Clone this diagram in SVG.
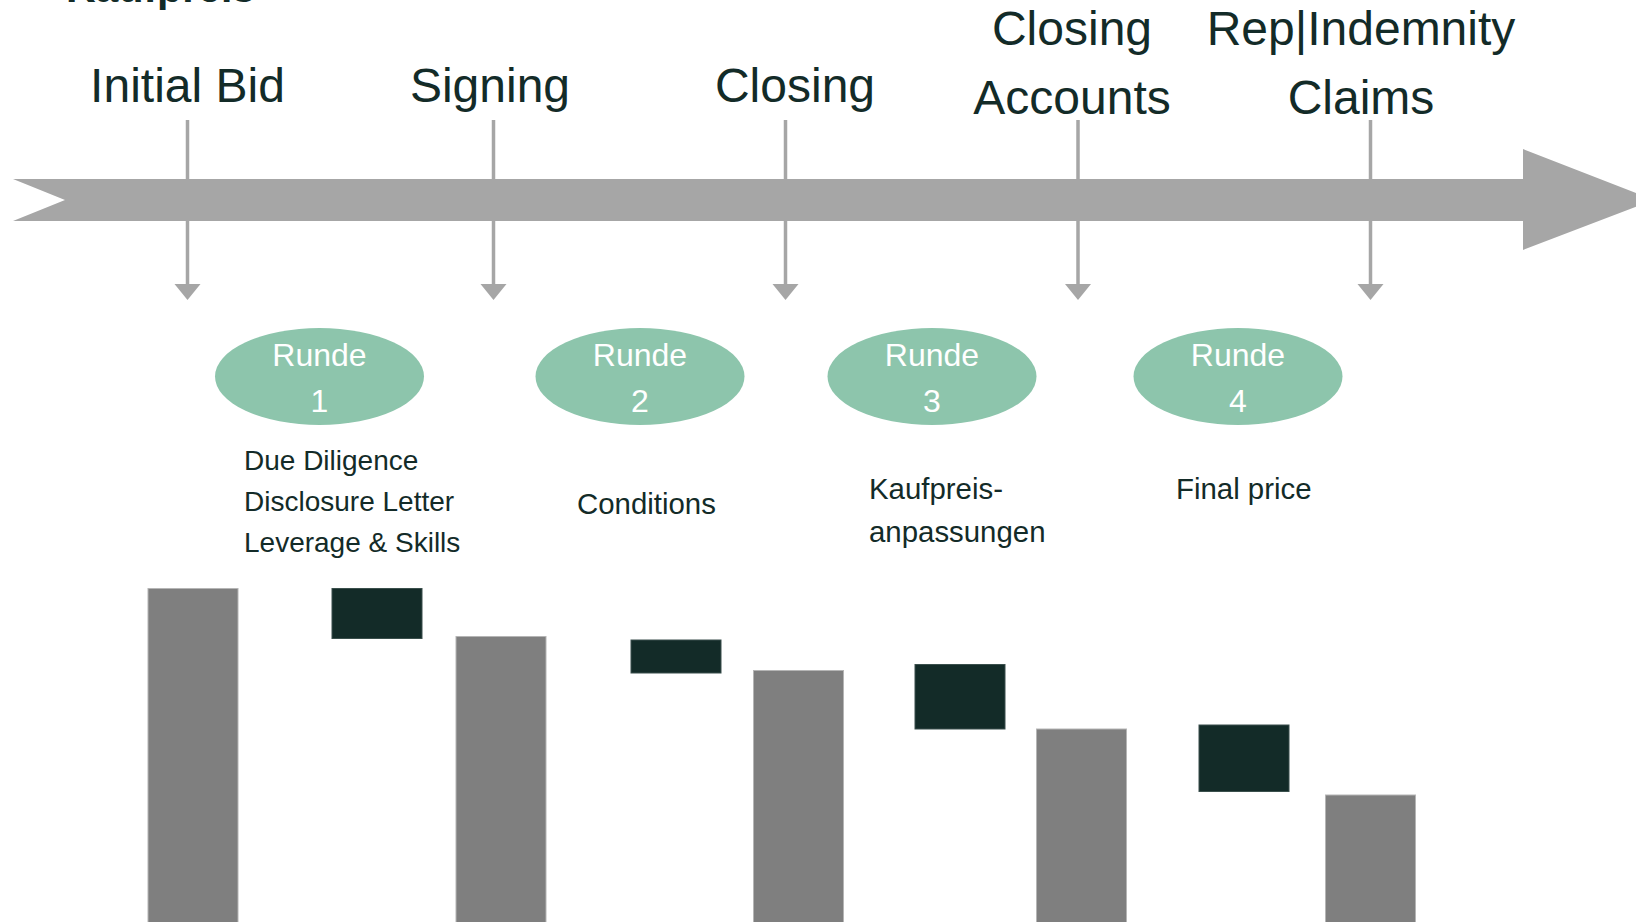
<svg xmlns="http://www.w3.org/2000/svg" width="1636" height="922" viewBox="0 0 1636 922">
<style>
text{font-family:"Liberation Sans",Arial,Helvetica,sans-serif;}
.title{font-size:41px;font-weight:bold;fill:#132B28;}
.lbl{font-size:48px;fill:#132B28;text-anchor:middle;}
.rnd{font-size:32px;fill:#FFFFFF;text-anchor:middle;}
.desc{font-size:28px;fill:#132B28;}
.desc2{font-size:29.4px;fill:#132B28;}
.ell{fill:#8DC5AC;}
.grey{fill:#7F7F7F;stroke:#B5B5B5;stroke-width:1;}
.dark{fill:#132B28;stroke:#3A4F4C;stroke-width:1;}
.conn{stroke:#A6A6A6;stroke-width:3.5;fill:none;}
.head{fill:#A6A6A6;}
</style>
<rect x="0" y="0" width="1636" height="922" fill="#FFFFFF"/>
<text class="title" x="66" y="2">Kaufpreis</text>

<g id="timeline">
<polygon fill="#A6A6A6" points="13,179 1523,179 1523,149 1654,200 1523,250 1523,221 13,221 65,200"/>
</g>

<g id="milestone-initial-bid"><text class="lbl" x="187.5" y="102">Initial Bid</text></g>
<g id="milestone-signing"><text class="lbl" x="490" y="102">Signing</text></g>
<g id="milestone-closing"><text class="lbl" x="795" y="102">Closing</text></g>
<g id="milestone-closing-accounts"><text class="lbl" x="1072" y="45">Closing</text><text class="lbl" x="1072" y="114">Accounts</text></g>
<g id="milestone-claims"><text class="lbl" x="1361" y="45">Rep|Indemnity</text><text class="lbl" x="1361" y="114">Claims</text></g>

<g id="connectors">
<line class="conn" x1="187.5" y1="120" x2="187.5" y2="286"/><polygon class="head" points="174.5,284 200.5,284 187.5,300"/>
<line class="conn" x1="493.5" y1="120" x2="493.5" y2="286"/><polygon class="head" points="480.5,284 506.5,284 493.5,300"/>
<line class="conn" x1="785.5" y1="120" x2="785.5" y2="286"/><polygon class="head" points="772.5,284 798.5,284 785.5,300"/>
<line class="conn" x1="1078" y1="120" x2="1078" y2="286"/><polygon class="head" points="1065,284 1091,284 1078,300"/>
<line class="conn" x1="1370.5" y1="120" x2="1370.5" y2="286"/><polygon class="head" points="1357.5,284 1383.5,284 1370.5,300"/>
</g>

<g id="runde-1"><ellipse class="ell" cx="319.5" cy="376.5" rx="104.5" ry="48.5"/><text class="rnd" x="319.5" y="366">Runde</text><text class="rnd" x="319.5" y="412">1</text></g>
<g id="runde-2"><ellipse class="ell" cx="640" cy="376.5" rx="104.5" ry="48.5"/><text class="rnd" x="640" y="366">Runde</text><text class="rnd" x="640" y="412">2</text></g>
<g id="runde-3"><ellipse class="ell" cx="932" cy="376.5" rx="104.5" ry="48.5"/><text class="rnd" x="932" y="366">Runde</text><text class="rnd" x="932" y="412">3</text></g>
<g id="runde-4"><ellipse class="ell" cx="1238" cy="376.5" rx="104.5" ry="48.5"/><text class="rnd" x="1238" y="366">Runde</text><text class="rnd" x="1238" y="412">4</text></g>

<g id="desc-1"><text class="desc" x="244" y="470">Due Diligence</text><text class="desc" x="244" y="511">Disclosure Letter</text><text class="desc" x="244" y="552">Leverage &amp; Skills</text></g>
<g id="desc-2"><text class="desc2" x="577" y="514">Conditions</text></g>
<g id="desc-3"><text class="desc2" x="869" y="499">Kaufpreis-</text><text class="desc2" x="869" y="542">anpassungen</text></g>
<g id="desc-4"><text class="desc2" x="1176" y="499">Final price</text></g>

<g id="bars">
<rect class="grey" x="148" y="588.5" width="90" height="340"/>
<rect class="dark" x="332" y="588.5" width="90" height="50"/>
<rect class="grey" x="456" y="636.5" width="90" height="300"/>
<rect class="dark" x="631" y="640" width="90" height="33"/>
<rect class="grey" x="753.5" y="670.5" width="90" height="260"/>
<rect class="dark" x="915" y="664.5" width="90" height="64.5"/>
<rect class="grey" x="1036.5" y="729" width="90" height="200"/>
<rect class="dark" x="1199" y="725" width="90" height="66.5"/>
<rect class="grey" x="1325.5" y="795" width="90" height="140"/>
</g>
</svg>
